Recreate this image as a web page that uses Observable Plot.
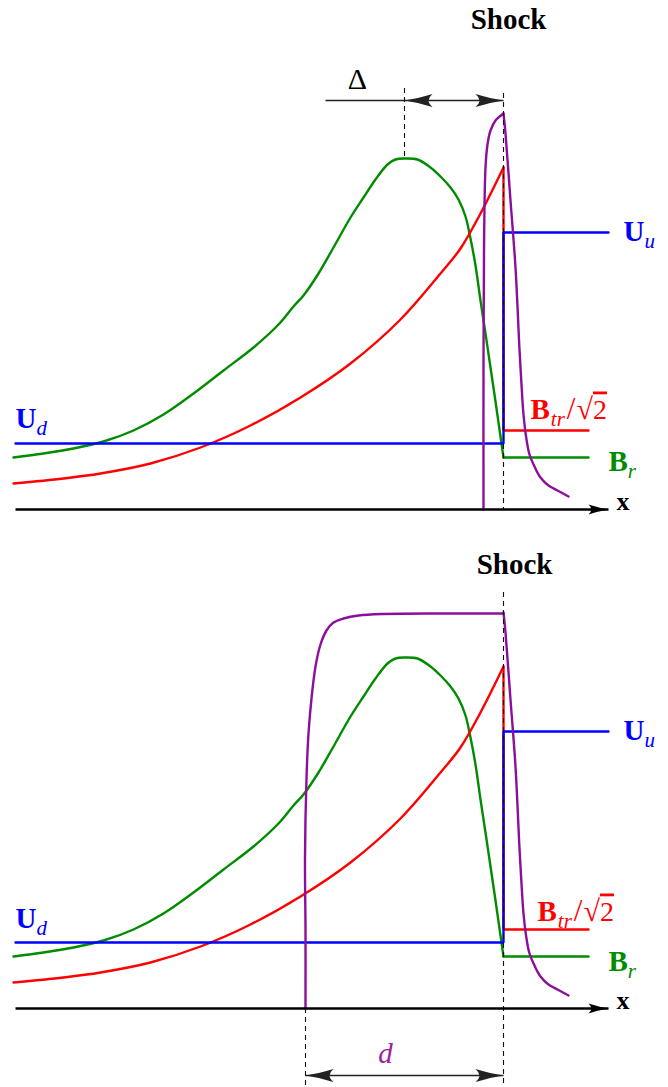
<!DOCTYPE html>
<html>
<head>
<meta charset="utf-8">
<script src="https://cdn.jsdelivr.net/npm/d3@7"></script>
<script src="https://cdn.jsdelivr.net/npm/@observablehq/plot@0.6"></script>
<style>
  html, body { margin: 0; padding: 0; background: #fff; }
  #chart svg { display: block; }
</style>
</head>
<body>
<div id="chart"></div>
<script>
// ---------------- data ----------------
// x: distance from the shock (positive = upstream), v: height above the x axis (schematic units)
const brDown = [[-490,52],[-460,56],[-430,61],[-400,68],[-370,79],[-340,95],[-310,116],[-280,139],[-250,162],
  [-225,185],[-210,203],[-200,214],[-185,236],[-170,262],[-153,292],[-140,312],[-128,330],[-116,345],[-108,350],
  [-99,351],[-86,350],[-73,342],[-63,333],[-53,322],[-45,310],[-38,293],[-33,271],[-28,244],[-23,209],[-18,176],
  [-13,142],[-8,108],[-3,73],[0,52]];
const brUp = [[0,52],[85,52]];
const btrDown = [[-490,26],[-440,31],[-403,36],[-353,46],[-303,62],[-253,84],[-203,112],[-153,146],
  [-103,190],[-63,236],[-43,261],[-23,296],[0,342]];
const btrUp = [[0,342],[0,79],[85,79]];
const uFlow = [[-488,66],[0,66],[0,277],[105,277]];
const pRiseTop = [[-20,0],[-20,150],[-19.5,259],[-18,342],[-16,365],[-13,379],[-8,389],[0,396]];
const pRiseBottom = [[-198,0],[-198,80],[-198.5,150],[-197,230],[-195,275],[-192,310],[-188,342],[-183,364],
  [-177,378],[-170,386],[-160,390],[-145,393],[-120,394.5],[-60,395],[0,395]];
const pFall = [[0,396],[2,376],[7,309],[12,242],[16,160],[18,125],[20,95],[23,70],[26,55],[31,43],[37,32],
  [45,24],[54,19],[65,13]];

const axisLine = [{x1: -488, x2: 105, v: 0}];

const dashedTop = [{x: 0, v1: 416, v2: 0}, {x: -99, v1: 421, v2: 351}];
const dashedBottom = [{x: 0, v1: 416, v2: -79}, {x: -198, v1: 0, v2: -79}];

const leadTop = [{x1: -178, x2: -99, v: 409}];
const arrowTop = [{x1: -99, x2: 0, v: 409}];
const arrowBottom = [{x1: -198, x2: 0, v: -67}];

const shockTop = [{x: 5, v: 481, text: "Shock"}];
const shockBottom = [{x: 11, v: 435, text: "Shock"}];
const deltaLabel = [{x: -146, v: 421, text: "Δ"}];
const dLabel = [{x: -118, v: -54, text: "d"}];
const xLabel = [{x: 113, v: 0, text: "x"}];

const labelsTop = {Ud: {x: -488, v: 82}, Uu: {x: 120, v: 269}, Btr: {x: 27, v: 91}, Br: {x: 105, v: 39}};
const labelsBottom = {Ud: {x: -488, v: 81}, Uu: {x: 120, v: 269}, Btr: {x: 34, v: 88}, Br: {x: 105, v: 38}};

// ---------------- styles ----------------
const SERIF = "'Liberation Serif', 'DejaVu Serif', serif";
const GREEN = "#008c00", RED = "#ff0000", BLUE = "#0000ff", PURPLE = "#8e0e9c", DTEXT = "#9b239b";
const LW = 2.4;
const X = d => d[0], V = d => d[1];

const richParts = {
  Ud: [{t: "U", w: "bold"}, {t: "d", s: "italic", size: 21, dy: 7}],
  Uu: [{t: "U", w: "bold"}, {t: "u", s: "italic", size: 21, dy: 7}],
  Br: [{t: "B", w: "bold"}, {t: "r", s: "italic", size: 21, dy: 7}],
  Btr: [{t: "B", w: "bold"}, {t: "tr", s: "italic", size: 21, dy: 7, dx: 1},
        {t: "/", size: 31, dy: -7, dx: 2}, {t: "√", size: 30, dx: 1}, {t: "2", size: 28, deco: "overline"}]
};
const richColor = {Ud: BLUE, Uu: BLUE, Br: GREEN, Btr: RED};

const SVGNS = "http://www.w3.org/2000/svg";
function headMarker(L, W, orient) {
  return (color, context) => {
    const doc = (context && context.document) || document;
    const m = doc.createElementNS(SVGNS, "marker");
    m.setAttribute("viewBox", `${-L - 1} ${-W - 1} ${L + 2} ${2 * W + 2}`);
    m.setAttribute("markerWidth", L + 2);
    m.setAttribute("markerHeight", 2 * W + 2);
    m.setAttribute("markerUnits", "userSpaceOnUse");
    m.setAttribute("refX", 0);
    m.setAttribute("refY", 0);
    m.setAttribute("orient", orient);
    m.setAttribute("overflow", "visible");
    const p = doc.createElementNS(SVGNS, "path");
    p.setAttribute("d", `M0,0 Q${-0.45 * L},${-0.3 * W} ${-L},${-W} Q${-0.72 * L},0 ${-L},${W} Q${-0.45 * L},${0.3 * W} 0,0Z`);
    p.setAttribute("fill", color);
    p.setAttribute("stroke", "none");
    m.appendChild(p);
    return m;
  };
}

function panel({height, yDomain, rise, dashed, arrows, lead, shock, labels, extra}) {
  const richRows = Object.entries(labels).map(([key, p]) => ({key, x: p.x, v: p.v}));
  const marks = [
    Plot.line(brDown, {x: X, y: V, stroke: GREEN, strokeWidth: LW, curve: "catmull-rom"}),
    Plot.line(brUp, {x: X, y: V, stroke: GREEN, strokeWidth: LW}),
    Plot.line(btrDown, {x: X, y: V, stroke: RED, strokeWidth: LW, curve: "catmull-rom"}),
    Plot.line(btrUp, {x: X, y: V, stroke: RED, strokeWidth: LW, strokeLinejoin: "miter"}),
    Plot.line(uFlow, {x: X, y: V, stroke: BLUE, strokeWidth: LW, strokeLinejoin: "miter"}),
    Plot.line(rise, {x: X, y: V, stroke: PURPLE, strokeWidth: LW, curve: "catmull-rom"}),
    Plot.line(pFall, {x: X, y: V, stroke: PURPLE, strokeWidth: LW, curve: "catmull-rom"}),
    Plot.ruleX(dashed, {x: "x", y1: "v1", y2: "v2", stroke: "#111", strokeWidth: 1.1, strokeDasharray: "5,4"}),
    Plot.link(axisLine, {x1: "x1", x2: "x2", y1: "v", y2: "v", stroke: "#000", strokeWidth: 2.4,
      markerEnd: headMarker(20, 5, "auto")}),
    Plot.link(arrows, {x1: "x1", x2: "x2", y1: "v", y2: "v", stroke: "#222", strokeWidth: 1.7,
      markerStart: headMarker(28, 6.5, "auto-start-reverse"), markerEnd: headMarker(28, 6.5, "auto")}),
    Plot.text(shock, {x: "x", y: "v", text: "text", fontFamily: SERIF, fontWeight: "bold", fontSize: 29,
      lineAnchor: "bottom", fill: "#000"}),
    Plot.text(xLabel, {x: "x", y: "v", text: "text", fontFamily: SERIF, fontWeight: "bold", fontSize: 26,
      lineAnchor: "bottom", textAnchor: "start", fill: "#000"}),
    Plot.text(richRows, {x: "x", y: "v", text: "key", fontFamily: SERIF, fontSize: 29,
      lineAnchor: "bottom", textAnchor: "start"})
  ];
  if (lead) marks.push(Plot.link(lead, {x1: "x1", x2: "x2", y1: "v", y2: "v", stroke: "#222", strokeWidth: 1.7}));
  if (extra) marks.push(...extra);
  const svg = Plot.plot({
    width: 668, height, margin: 0,
    x: {domain: [-503, 165], axis: null},
    y: {domain: yDomain, axis: null},
    marks
  });
  // turn label keys into rich text with subscript pieces
  svg.querySelectorAll("text").forEach(t => {
    const key = t.textContent;
    const parts = richParts[key];
    if (!parts) return;
    t.textContent = "";
    t.setAttribute("fill", richColor[key]);
    for (const p of parts) {
      const ts = document.createElementNS(SVGNS, "tspan");
      ts.textContent = p.t;
      if (p.w) ts.setAttribute("font-weight", p.w);
      if (p.s) ts.setAttribute("font-style", p.s);
      if (p.size) ts.setAttribute("font-size", p.size);
      if (p.dy) ts.setAttribute("dy", p.dy);
      if (p.dx) ts.setAttribute("dx", p.dx);
      if (p.deco) ts.setAttribute("text-decoration", p.deco);
      t.appendChild(ts);
    }
  });
  return svg;
}

const topPanel = panel({
  height: 543, yDomain: [-34, 509], rise: pRiseTop, dashed: dashedTop, arrows: arrowTop, lead: leadTop,
  shock: shockTop, labels: labelsTop,
  extra: [Plot.text(deltaLabel, {x: "x", y: "v", text: "text", fontFamily: SERIF, fontSize: 30,
    lineAnchor: "bottom", fill: "#000"})]
});
const bottomPanel = panel({
  height: 544, yDomain: [-79, 465], rise: pRiseBottom, dashed: dashedBottom, arrows: arrowBottom,
  shock: shockBottom, labels: labelsBottom,
  extra: [Plot.text(dLabel, {x: "x", y: "v", text: "text", fontFamily: SERIF, fontStyle: "italic", fontSize: 29,
    lineAnchor: "bottom", fill: DTEXT})]
});
document.getElementById("chart").append(topPanel, bottomPanel);
</script>
</body>
</html>
